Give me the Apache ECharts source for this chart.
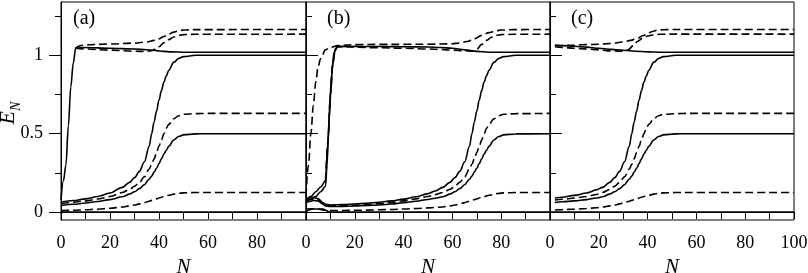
<!DOCTYPE html>
<html><head><meta charset="utf-8">
<script src="https://cdn.jsdelivr.net/npm/echarts@6/dist/echarts.min.js"></script>
<style>html,body{margin:0;padding:0;background:#fff}#c{width:808px;height:273px}</style>
</head><body><div id="c"></div>
<script>
// ---------- tick labels ----------
const xTicks = [0,10,20,30,40,50,60,70,80,90,100];
const xLabelsAB = [0,20,40,60,80];
const xLabelsC = [0,20,40,60,80,100];
const yMajor = [0,0.5,1];
const yMinor = [0.25,0.75,1.25];
const panelNames = ['(a)','(b)','(c)'];

// ---------- panel (a) ----------
const nA = [0,5,10,15,20,25,28,30,32,34,36,37,38,39,40,41,42,43,44,46,48,50,55,60,100];
const a_s1 = [0.064,0.074,0.085,0.10,0.122,0.158,0.19,0.22,0.26,0.32,0.42,0.50,0.575,0.645,0.715,0.775,0.83,0.87,0.905,0.955,0.98,0.992,1.0,1.0,1.0];
const a_d1 = [0.055,0.063,0.072,0.084,0.10,0.125,0.145,0.165,0.19,0.225,0.275,0.305,0.34,0.38,0.42,0.46,0.50,0.535,0.56,0.595,0.615,0.624,0.628,0.63,0.63];
const a_s2 = [0.042,0.05,0.058,0.068,0.08,0.098,0.115,0.13,0.15,0.175,0.21,0.23,0.255,0.28,0.31,0.34,0.37,0.395,0.42,0.46,0.482,0.493,0.499,0.5,0.5];
const a_d2 = [0.01,0.012,0.015,0.019,0.025,0.033,0.04,0.046,0.053,0.061,0.07,0.075,0.08,0.085,0.09,0.095,0.10,0.104,0.108,0.115,0.12,0.123,0.125,0.125,0.125];
const nA_zero = [0,100];
const a_zero = [0,0];
const nA_upS = [0,1,2,3,4,5,6,10,20,30,35,38,40,42,45,50,60,100];
const a_upS = [0.08,0.2,0.3,0.55,0.8,0.95,1.047,1.05,1.045,1.04,1.036,1.032,1.028,1.025,1.022,1.02,1.02,1.02];
const nA_upD1 = [6,8,10,20,30,35,38,40,42,44,46,48,50,55,100];
const a_upD1 = [1.047,1.062,1.067,1.072,1.078,1.085,1.095,1.105,1.12,1.135,1.148,1.157,1.161,1.164,1.165];
const nA_upD2 = [6,10,20,30,35,37,40,42,44,46,48,50,55,100];
const a_upD2 = [1.045,1.04,1.033,1.026,1.024,1.03,1.055,1.08,1.10,1.117,1.127,1.132,1.134,1.135];

// ---------- panel (b) ----------
const nB = [0,2,3,5,7,8,10,15,20,25,30,35,40,45,50,53,56,59,61,63,65,67,68,69,70,71,72,73,74,75,77,79,81,86,100];
const b_s1 = [0.075,0.09,0.095,0.085,0.06,0.05,0.046,0.048,0.052,0.057,0.063,0.072,0.083,0.098,0.118,0.135,0.158,0.19,0.22,0.26,0.32,0.42,0.50,0.575,0.645,0.715,0.775,0.83,0.87,0.905,0.955,0.98,0.992,1.0,1.0];
const b_d1 = [0.07,0.08,0.085,0.075,0.055,0.045,0.04,0.041,0.044,0.048,0.054,0.062,0.072,0.085,0.10,0.112,0.125,0.145,0.165,0.19,0.225,0.275,0.305,0.34,0.38,0.42,0.46,0.50,0.535,0.56,0.595,0.615,0.624,0.628,0.63];
const b_s2 = [0.06,0.07,0.075,0.07,0.05,0.04,0.036,0.037,0.039,0.042,0.046,0.052,0.06,0.07,0.081,0.089,0.098,0.115,0.13,0.15,0.175,0.21,0.23,0.255,0.28,0.31,0.34,0.37,0.395,0.42,0.46,0.482,0.493,0.499,0.5];
const b_d2 = [0.02,0.022,0.022,0.02,0.014,0.012,0.011,0.011,0.012,0.013,0.015,0.017,0.02,0.023,0.027,0.03,0.033,0.04,0.046,0.053,0.061,0.07,0.075,0.08,0.085,0.09,0.095,0.10,0.104,0.108,0.115,0.12,0.123,0.125,0.125];
const nB_zero = [0,1.5,2.5,7,8.5,9.5,100];
const b_zero = [0,0.015,0.02,0.02,0.01,0,0];
const nB_upS1 = [0,2,4,6,8,9,10,11,12,13,20,30,40,50,55,60,65,70,75,80,100];
const b_upS1 = [0.08,0.1,0.13,0.16,0.2,0.45,0.75,0.95,1.04,1.055,1.057,1.056,1.055,1.053,1.05,1.045,1.035,1.025,1.02,1.02,1.02];
const nB_upS2 = [0,2,4,6,8,8.6,9.5,10.5,11.5,13,15];
const b_upS2 = [0.07,0.085,0.1,0.13,0.165,0.3,0.6,0.88,1.02,1.055,1.057];
const nB_upD1 = [0,1,2,3,4,5,6,8,10,13,20,30,40,50,55,60,63,66,69,72,75,78,80,85,100];
const b_upD1 = [0.1,0.3,0.5,0.68,0.83,0.93,0.98,1.035,1.05,1.062,1.068,1.07,1.07,1.071,1.072,1.074,1.078,1.088,1.105,1.127,1.145,1.157,1.161,1.164,1.165];
const nB_upD2 = [8,9,10,11,12,13,20,30,40,50,55,60,65,68,70,72,74,76,78,80,85,100];
const b_upD2 = [0.2,0.45,0.75,0.95,1.04,1.057,1.052,1.048,1.045,1.04,1.037,1.033,1.028,1.027,1.04,1.07,1.095,1.115,1.127,1.132,1.134,1.135];

// ---------- panel (c) ----------
const nC = [2,5,10,15,19,21.5,24.5,26.5,28.5,30.5,32.5,33.5,34.5,35.5,36.5,37.5,38.5,39.5,40.5,42.5,44.5,46.5,51.5,56.5,100];
const c_s1 = [0.09,0.095,0.107,0.122,0.142,0.158,0.19,0.22,0.26,0.32,0.42,0.50,0.575,0.645,0.715,0.775,0.83,0.87,0.905,0.955,0.98,0.992,1.0,1.0,1.0];
const c_d1 = [0.078,0.082,0.09,0.10,0.113,0.125,0.145,0.165,0.19,0.225,0.275,0.305,0.34,0.38,0.42,0.46,0.50,0.535,0.56,0.595,0.615,0.624,0.628,0.63,0.63];
const c_s2 = [0.062,0.066,0.072,0.08,0.09,0.098,0.115,0.13,0.15,0.175,0.21,0.23,0.255,0.28,0.31,0.34,0.37,0.395,0.42,0.46,0.482,0.493,0.499,0.5,0.5];
const c_d2 = [0.014,0.016,0.019,0.023,0.028,0.033,0.04,0.046,0.053,0.061,0.07,0.075,0.08,0.085,0.09,0.095,0.10,0.104,0.108,0.115,0.12,0.123,0.125,0.125,0.125];
const nC_zero = [0,100];
const c_zero = [0,0];
const nC_upS = [2,5,10,15,20,25,30,35,40,45,50,100];
const c_upS = [1.065,1.062,1.058,1.052,1.045,1.038,1.032,1.026,1.022,1.02,1.02,1.02];
const nC_upD1 = [2,5,10,15,20,25,30,33,36,38,40,42,44,46,50,100];
const c_upD1 = [1.06,1.063,1.066,1.068,1.071,1.075,1.085,1.095,1.11,1.125,1.14,1.152,1.16,1.163,1.165,1.165];
const nC_upD2 = [2,5,10,15,20,25,30,32,34,36,38,40,42,45,50,100];
const c_upD2 = [1.055,1.05,1.045,1.04,1.035,1.028,1.026,1.035,1.06,1.09,1.11,1.123,1.13,1.134,1.135,1.135];

// ---------- build ----------
const SERIF = 'Liberation Serif';
const gridBoxes = [[61,245],[306,244],[550,244]];
const TOP = 2, H = 218;
const YMIN = -0.05, YMAX = 1.34;

function pairs(ns, vs){ return ns.map((n,i)=>[n, vs[i]]); }
function line(panel, ns, vs, dashed){
  return {
    type:'line', xAxisIndex:panel, yAxisIndex:panel*2,
    data:pairs(ns, vs), symbol:'none', smooth:0.35, smoothMonotone:'x',
    lineStyle:{color:'#000', width:1.6, type: dashed ? [8,4] : 'solid'},
    silent:true, animation:false, z:3
  };
}

const panels = [
  [[nA,a_s1,0],[nA,a_d1,1],[nA,a_s2,0],[nA,a_d2,1],[nA_zero,a_zero,0],[nA_upS,a_upS,0],[nA_upD1,a_upD1,1],[nA_upD2,a_upD2,1]],
  [[nB,b_s1,0],[nB,b_d1,1],[nB,b_s2,0],[nB,b_d2,1],[nB_zero,b_zero,0],[nB_upS1,b_upS1,0],[nB_upS2,b_upS2,0],[nB_upD1,b_upD1,1],[nB_upD2,b_upD2,1]],
  [[nC,c_s1,0],[nC,c_d1,1],[nC,c_s2,0],[nC,c_d2,1],[nC_zero,c_zero,0],[nC_upS,c_upS,0],[nC_upD1,c_upD1,1],[nC_upD2,c_upD2,1]]
];

const series = [];
panels.forEach((list,p)=>list.forEach(([ns,vs,d])=>series.push(line(p,ns,vs,d))));

const grid = gridBoxes.map(([l,w])=>({left:l, width:w, top:TOP, height:H, show:true, borderColor:'#000', borderWidth:1, backgroundColor:'transparent', containLabel:false, outerBoundsMode:'none'}));

const xAxis = [0,1,2].map(p=>({
  type:'value', gridIndex:p, min:0, max:100,
  axisLine:{show:true, lineStyle:{color:'#000', width:1}},
  axisTick:{show:true, inside:false, length:7, customValues:xTicks, lineStyle:{color:'#000', width:1}},
  axisLabel:{show:true, customValues: p===2 ? xLabelsC : xLabelsAB, color:'#000', fontFamily:SERIF, fontSize:18, margin:14},
  splitLine:{show:false},
  name:'N', nameLocation:'middle', nameGap:28,
  nameTextStyle:{fontFamily:SERIF, fontStyle:'italic', fontSize:21, color:'#000'}
}));

const yAxis = [];
[0,1,2].forEach(p=>{
  yAxis.push({
    type:'value', gridIndex:p, min:YMIN, max:YMAX, position:'left',
    axisLine:{show:true, lineStyle:{color:'#000', width:1}},
    axisTick:{show:true, inside:p>0, length:12, customValues:yMajor, lineStyle:{color:'#000', width:1}},
    axisLabel:{show:p===0, customValues:yMajor, color:'#000', fontFamily:SERIF, fontSize:18, margin:18},
    splitLine:{show:false}
  });
  yAxis.push({
    type:'value', gridIndex:p, min:YMIN, max:YMAX, position:'left',
    axisLine:{show:false},
    axisTick:{show:true, inside:p>0, length:6, customValues:yMinor, lineStyle:{color:'#000', width:1}},
    axisLabel:{show:false},
    splitLine:{show:false}
  });
});

const graphic = [
  {type:'text', left:73, top:9, style:{text:panelNames[0], font:'20px "Liberation Serif"', fill:'#000'}},
  {type:'text', left:327, top:9, style:{text:panelNames[1], font:'20px "Liberation Serif"', fill:'#000'}},
  {type:'text', left:571, top:9, style:{text:panelNames[2], font:'20px "Liberation Serif"', fill:'#000'}},
  {type:'text', x:10, y:113, rotation:Math.PI/2,
   style:{text:'{e|E}{n|N}', align:'center', verticalAlign:'middle', fill:'#000',
     rich:{e:{fontFamily:SERIF, fontStyle:'italic', fontSize:22, lineHeight:26, verticalAlign:'top'},
           n:{fontFamily:SERIF, fontStyle:'italic', fontSize:14, lineHeight:26, verticalAlign:'bottom'}}}}
];

const chart = echarts.init(document.getElementById('c'), null, {renderer:'canvas'});
chart.setOption({animation:false, backgroundColor:'#fff', grid, xAxis, yAxis, series, graphic});
</script>
</body></html>
